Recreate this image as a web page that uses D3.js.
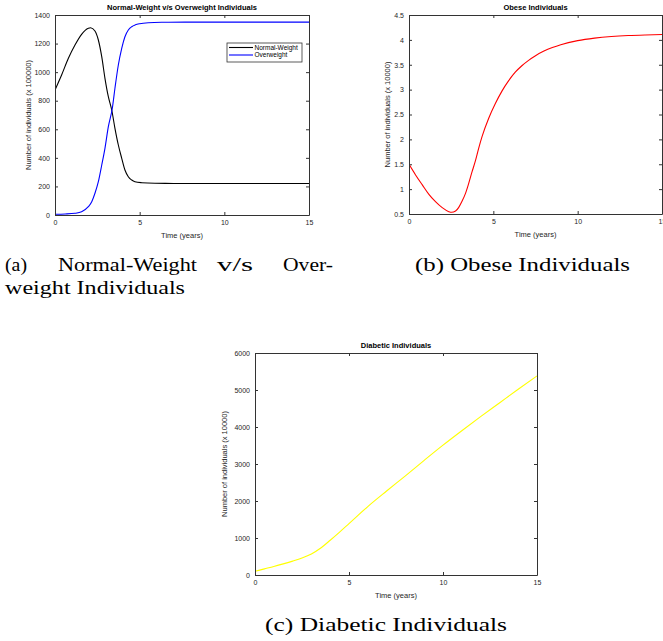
<!DOCTYPE html>
<html>
<head>
<meta charset="utf-8">
<script src="https://cdn.jsdelivr.net/npm/d3@7.9.0/dist/d3.min.js"></script>
<style>
  body { margin: 0; background: #fff; }
  svg { display: block; }
</style>
</head>
<body>
<div id="chart"></div>
<script>
// ---------------------- Data ----------------------
const nwTime = [0, 0.39, 0.79, 1.18, 1.57, 1.97, 2.1, 2.36, 2.56, 2.76, 2.95, 3.15, 3.35, 3.54, 3.74, 3.94, 4.13, 4.33, 4.53, 4.72, 5.12, 5.9, 7, 10, 15];
const normalWeight = [875, 980, 1097, 1190, 1265, 1307, 1311, 1288, 1225, 1108, 957, 828, 735, 607, 490, 397, 315, 268, 245, 233, 226, 222, 221, 220, 220];

const owTime = [0, 0.6, 1.18, 1.57, 1.97, 2.17, 2.36, 2.56, 2.76, 2.95, 3.15, 3.39, 3.54, 3.74, 3.94, 4.13, 4.33, 4.53, 4.75, 5.0, 5.51, 6.3, 7.68, 10, 15];
const overweight = [5, 7, 12, 23, 58, 93, 152, 233, 350, 467, 618, 751, 887, 1050, 1167, 1248, 1295, 1318, 1331, 1339, 1346, 1349, 1350, 1350, 1350];

const obTime = [0, 0.39, 0.79, 1.18, 1.57, 1.97, 2.36, 2.52, 2.76, 2.95, 3.15, 3.35, 3.54, 3.74, 3.94, 4.13, 4.33, 4.72, 5.12, 5.51, 5.91, 6.3, 6.69, 7.09, 7.5, 8, 8.5, 9, 10, 11, 12, 13, 14, 15];
const obese = [1.5, 1.285, 1.085, 0.895, 0.748, 0.627, 0.547, 0.534, 0.56, 0.634, 0.76, 0.915, 1.116, 1.35, 1.572, 1.82, 2.055, 2.42, 2.72, 2.97, 3.18, 3.35, 3.48, 3.589, 3.682, 3.774, 3.846, 3.904, 3.985, 4.035, 4.067, 4.087, 4.099, 4.107];

const dbTime = [0, 0.5, 1, 1.5, 2, 2.5, 3, 3.5, 4, 4.5, 5, 6, 7, 8, 9, 10, 11, 12, 13, 14, 15];
const diabetic = [100, 165, 230, 300, 375, 460, 570, 730, 940, 1160, 1390, 1850, 2270, 2680, 3100, 3510, 3900, 4280, 4650, 5020, 5380];

const xTicks = [0, 5, 10, 15];
const yTicksA = [0, 200, 400, 600, 800, 1000, 1200, 1400];
const yTicksB = [0.5, 1, 1.5, 2, 2.5, 3, 3.5, 4, 4.5];
const yTicksC = [0, 1000, 2000, 3000, 4000, 5000, 6000];

// ---------------------- Setup ----------------------
const width = 663, height = 641;
const axisColor = '#333';
const sans = 'Liberation Sans, Arial, sans-serif';
const serif = 'Liberation Serif, Times New Roman, serif';

const svg = d3.select('#chart').append('svg')
  .attr('width', width)
  .attr('height', height);

const panels = [
  {
    id: 'a', left: 55, right: 309, top: 15, bottom: 215,
    yDomain: [0, 1400], yTicks: yTicksA,
    title: 'Normal-Weight v/s Overweight Individuals',
    ylabel: 'Number of individuals (x 100000)', ylabelX: 28,
    series: [
      { name: 'Normal-Weight', t: nwTime, v: normalWeight, color: '#000000' },
      { name: 'Overweight', t: owTime, v: overweight, color: '#0000ff' }
    ],
    legend: true
  },
  {
    id: 'b', left: 409, right: 662, top: 15, bottom: 214,
    yDomain: [0.5, 4.5], yTicks: yTicksB,
    title: 'Obese Individuals',
    ylabel: 'Number of individuals (x 10000)', ylabelX: 387,
    series: [{ name: 'Obese', t: obTime, v: obese, color: '#ff0000' }]
  },
  {
    id: 'c', left: 255, right: 537, top: 353, bottom: 575,
    yDomain: [0, 6000], yTicks: yTicksC,
    title: 'Diabetic Individuals',
    ylabel: 'Number of individuals (x 10000)', ylabelX: 224,
    series: [{ name: 'Diabetic', t: dbTime, v: diabetic, color: '#ffff00' }]
  }
];

// ---------------------- Panels ----------------------
function styleAxis(g) {
  g.attr('font-family', sans).attr('font-size', 7);
  g.selectAll('path.domain').attr('stroke', axisColor);
  g.selectAll('line').attr('stroke', axisColor);
  g.selectAll('text').attr('fill', '#262626');
}

function drawPanel(p) {
  const x = d3.scaleLinear().domain([0, 15]).range([p.left, p.right]);
  const y = d3.scaleLinear().domain(p.yDomain).range([p.bottom, p.top]);
  const g = svg.append('g').attr('class', 'panel-' + p.id);

  g.append('clipPath').attr('id', 'clip-' + p.id)
    .append('rect')
    .attr('x', p.left).attr('y', p.top)
    .attr('width', p.right - p.left).attr('height', p.bottom - p.top);

  const line = d3.line()
    .x(d => x(d[0]))
    .y(d => y(d[1]))
    .curve(d3.curveMonotoneX);

  p.series.forEach(s => {
    g.append('path')
      .datum(d3.zip(s.t, s.v))
      .attr('clip-path', `url(#clip-${p.id})`)
      .attr('fill', 'none')
      .attr('stroke', s.color)
      .attr('stroke-width', 1.1)
      .attr('d', line);
  });

  // MATLAB style box with inward ticks
  g.append('g')
    .attr('transform', `translate(0,${p.bottom})`)
    .call(d3.axisBottom(x).tickValues(xTicks).tickSize(-3).tickSizeOuter(0).tickPadding(5))
    .call(styleAxis);
  g.append('g')
    .attr('transform', `translate(0,${p.top})`)
    .call(d3.axisTop(x).tickValues(xTicks).tickSize(-3).tickSizeOuter(0).tickFormat(''))
    .call(styleAxis);
  g.append('g')
    .attr('transform', `translate(${p.left},0)`)
    .call(d3.axisLeft(y).tickValues(p.yTicks).tickSize(-3).tickSizeOuter(0).tickPadding(5).tickFormat(d => String(d)))
    .call(styleAxis);
  g.append('g')
    .attr('transform', `translate(${p.right},0)`)
    .call(d3.axisRight(y).tickValues(p.yTicks).tickSize(-3).tickSizeOuter(0).tickFormat(''))
    .call(styleAxis);

  const cx = (p.left + p.right) / 2;

  g.append('text')
    .attr('x', cx).attr('y', p.top - 5)
    .attr('text-anchor', 'middle')
    .attr('font-family', sans).attr('font-size', 7.5).attr('font-weight', 'bold')
    .attr('fill', '#000')
    .text(p.title);

  g.append('text')
    .attr('x', cx).attr('y', p.bottom + 23)
    .attr('text-anchor', 'middle')
    .attr('font-family', sans).attr('font-size', 7.5)
    .attr('fill', '#262626')
    .text('Time (years)');

  const ym = (p.top + p.bottom) / 2;
  g.append('text')
    .attr('transform', `translate(${p.ylabelX},${ym}) rotate(-90)`)
    .attr('text-anchor', 'middle')
    .attr('dy', '0.35em')
    .attr('font-family', sans).attr('font-size', 7.5)
    .attr('fill', '#262626')
    .text(p.ylabel);

  if (p.legend) {
    const lg = g.append('g').attr('transform', 'translate(227,43)');
    lg.append('rect')
      .attr('width', 75).attr('height', 19)
      .attr('fill', '#fff').attr('stroke', axisColor).attr('stroke-width', 0.8);
    p.series.forEach((s, i) => {
      const ly = 4.5 + i * 7.5;
      lg.append('line')
        .attr('x1', 2).attr('x2', 26).attr('y1', ly).attr('y2', ly)
        .attr('stroke', s.color).attr('stroke-width', 1.1);
      lg.append('text')
        .attr('x', 27.5).attr('y', ly).attr('dy', '0.35em')
        .attr('font-family', sans).attr('font-size', 6.5)
        .attr('fill', '#000')
        .text(s.name);
    });
  }
}

panels.forEach(drawPanel);

// ---------------------- Captions ----------------------
const captions = [
  { text: '(a)', x1: 5, x2: 27, y: 271 },
  { text: 'Normal-Weight', x1: 58, x2: 197, y: 271 },
  { text: 'v/s', x1: 217, x2: 253, y: 271 },
  { text: 'Over-', x1: 283, x2: 333, y: 271 },
  { text: 'weight Individuals', x1: 5, x2: 185, y: 293.5 },
  { text: '(b) Obese Individuals', x1: 415, x2: 630, y: 271 },
  { text: '(c) Diabetic Individuals', x1: 265, x2: 507, y: 631 }
];

svg.append('g').selectAll('text')
  .data(captions)
  .join('text')
  .attr('x', d => d.x1)
  .attr('y', d => d.y)
  .attr('textLength', d => d.x2 - d.x1)
  .attr('lengthAdjust', 'spacingAndGlyphs')
  .attr('font-family', serif)
  .attr('font-size', 19)
  .attr('fill', '#000')
  .text(d => d.text);
</script>
</body>
</html>
